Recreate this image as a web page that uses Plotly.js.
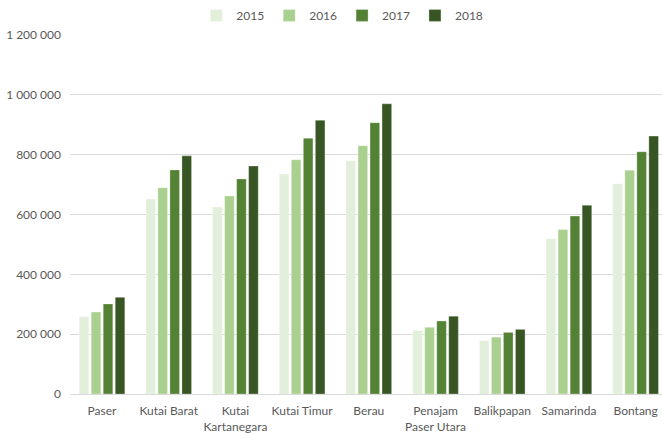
<!DOCTYPE html>
<html>
<head>
<meta charset="utf-8">
<script src="https://cdn.plot.ly/plotly-3.0.1.min.js"></script>
<style>html,body{margin:0;padding:0;background:#fff;}#chart{width:662px;height:433px;}</style>
</head>
<body>
<div id="chart"></div>
<script>
const categories = ["Paser", "Kutai Barat", "Kutai<br>Kartanegara", "Kutai Timur", "Berau", "Penajam<br>Paser Utara", "Balikpapan", "Samarinda", "Bontang"];
const seriesNames = ["2015", "2016", "2017", "2018"];
const v2015 = [258000, 652000, 625000, 735000, 780000, 212000, 179000, 519000, 703000];
const v2016 = [274000, 689000, 662000, 783000, 830000, 223000, 190000, 550000, 748000];
const v2017 = [301000, 749000, 719000, 855000, 907000, 244000, 206000, 595000, 810000];
const v2018 = [323000, 796000, 762000, 915000, 970000, 260000, 216000, 631000, 862000];
const yTicks = [0, 200000, 400000, 600000, 800000, 1000000, 1200000];
const colors = ["#e2efda", "#a9d08e", "#548235", "#375623"];

const values = [v2015, v2016, v2017, v2018];
const traces = values.map((v, i) => ({
  type: "bar",
  name: seriesNames[i],
  x: categories,
  y: v,
  marker: {color: colors[i], line: {color: "rgba(255,255,255,0.6)", width: 0.5}},
  hoverinfo: "x+y"
}));

const layout = {
  width: 662, height: 433,
  margin: {l: 70, r: 0, t: 35, b: 39, pad: 0},
  paper_bgcolor: "#fff", plot_bgcolor: "#fff",
  font: {family: "Lato, 'Open Sans', sans-serif", size: 12, color: "#595959"},
  separators: ", ",
  barmode: "group",
  bargap: 0.28,
  bargroupgap: 0.2,
  showlegend: true,
  legend: {orientation: "h", x: 0.46, xanchor: "center", y: 1.095, yanchor: "top", yref: "paper",
           font: {size: 12, color: "#595959"}, itemwidth: 30, tracegroupgap: 0, bgcolor: "rgba(0,0,0,0)"},
  xaxis: {
    type: "category",
    range: [-0.48, 8.395],
    showgrid: false,
    showline: true, linecolor: "#d9d9d9", linewidth: 1,
    ticks: "", ticklabelstandoff: 6,
    tickfont: {size: 12, color: "#595959"},
    fixedrange: true
  },
  yaxis: {
    range: [0, 1200000],
    tickvals: yTicks,
    tickformat: ",d",
    showgrid: true, gridcolor: "#d9d9d9", gridwidth: 1,
    zeroline: false, showline: false,
    ticks: "", ticklabelstandoff: 8,
    tickfont: {size: 12, color: "#595959"},
    fixedrange: true
  }
};

Plotly.newPlot("chart", traces, layout, {displayModeBar: false, staticPlot: true});
</script>
</body>
</html>
